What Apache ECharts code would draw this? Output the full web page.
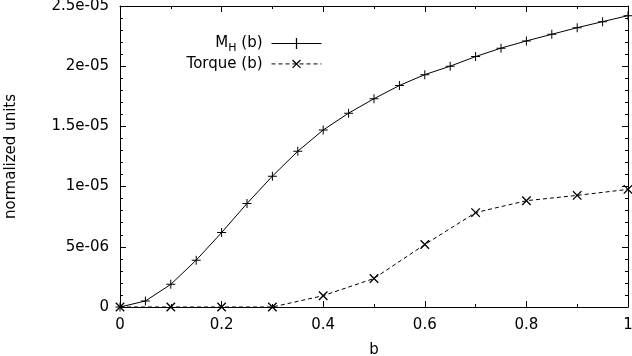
<!DOCTYPE html>
<html>
<head>
<meta charset="utf-8">
<script src="https://cdn.jsdelivr.net/npm/echarts@6/dist/echarts.min.js"></script>
<style>
  html, body { margin: 0; padding: 0; background: #fff; }
  #chart { width: 632px; height: 356px; }
</style>
</head>
<body>
<div id="chart"></div>
<script>
// M_H(b), sampled every 0.05
const mhB = [0, 0.05, 0.1, 0.15, 0.2, 0.25, 0.3, 0.35, 0.4, 0.45, 0.5,
  0.55, 0.6, 0.65, 0.7, 0.75, 0.8, 0.85, 0.9, 0.95, 1.0]
const mhValues = [0, 0.5e-6, 1.88e-6, 3.89e-6, 6.18e-6, 8.6e-6, 10.87e-6, 12.94e-6, 14.7e-6, 16.1e-6, 17.3e-6,
  18.4e-6, 19.3e-6, 20.0e-6, 20.8e-6, 21.5e-6, 22.1e-6, 22.65e-6, 23.2e-6, 23.7e-6, 24.2e-6]

// Torque(b), sampled every 0.1
const torqueB = [0, 0.1, 0.2, 0.3, 0.4, 0.5, 0.6, 0.7, 0.8, 0.9, 1.0]
const torqueValues = [0, 0, 0, 0, 0.94e-6, 2.37e-6, 5.19e-6, 7.84e-6, 8.83e-6, 9.27e-6, 9.77e-6]

const FONT = 'DejaVu Sans'
const FS = 15
const PLUS = 'path://M4,0h1v4h4v1h-4v4h-1v-4h-4v-1h4z'

// 0 -> '0', 2.5e-5 -> '2.5e-05'
const fmtExp = (v) => {
  if (v === 0) return '0'
  const s = Number(v.toPrecision(6)).toExponential()
  return s.replace(/e([+-])(\d)$/, 'e$10$2')
}

const chart = echarts.init(document.getElementById('chart'))

const tick = { show: true, inside: true, length: 6, lineStyle: { color: '#000', width: 1 } }
const axisLine = { show: true, onZero: false, lineStyle: { color: '#000', width: 1 } }
const labelStyle = { fontFamily: FONT, fontSize: FS, color: '#000' }

const legendBase = {
  orient: 'horizontal',
  align: 'right',
  right: 305,
  itemWidth: 50,
  itemHeight: 14,
  selectedMode: false,
  lineStyle: { width: 1 },
  textStyle: {
    ...labelStyle,
    padding: [0, 4, 0, 0],
    rich: {
      n: { ...labelStyle },
      s: { fontFamily: FONT, fontSize: 11, color: '#000', padding: [9, 0, 0, 0] }
    }
  }
}

const option = {
  backgroundColor: '#fff',
  animation: false,
  grid: { left: 120, right: 4, top: 6, bottom: 49, outerBoundsMode: 'none' },
  legend: [
    {
      ...legendBase,
      top: 31,
      data: ['MH (b)'],
      formatter: () => '{n|M}{s|H}{n| (b)}'
    },
    {
      ...legendBase,
      top: 51,
      data: ['Torque (b)']
    }
  ],
  xAxis: [
    {
      type: 'value',
      position: 'bottom',
      min: 0,
      max: 1,
      interval: 0.2,
      name: 'b',
      nameLocation: 'middle',
      nameGap: 36,
      nameTextStyle: labelStyle,
      axisLine: axisLine,
      axisTick: tick,
      minorTick: { show: true, splitNumber: 2, length: 3, lineStyle: { color: '#000' } },
      splitLine: { show: false },
      axisLabel: { ...labelStyle, margin: 11 }
    },
    {
      type: 'value',
      position: 'top',
      min: 0,
      max: 1,
      interval: 0.2,
      axisLine: axisLine,
      axisTick: tick,
      minorTick: { show: true, splitNumber: 2, length: 3, lineStyle: { color: '#000' } },
      splitLine: { show: false },
      axisLabel: { show: false }
    }
  ],
  yAxis: [
    {
      type: 'value',
      position: 'left',
      min: 0,
      max: 2.5e-5,
      interval: 5e-6,
      name: 'normalized units',
      nameLocation: 'middle',
      nameGap: 101,
      nameTextStyle: labelStyle,
      axisLine: axisLine,
      axisTick: tick,
      minorTick: { show: true, splitNumber: 5, length: 3, lineStyle: { color: '#000' } },
      splitLine: { show: false },
      axisLabel: { ...labelStyle, margin: 11, formatter: fmtExp }
    },
    {
      type: 'value',
      position: 'right',
      min: 0,
      max: 2.5e-5,
      interval: 5e-6,
      axisLine: axisLine,
      axisTick: tick,
      minorTick: { show: true, splitNumber: 5, length: 3, lineStyle: { color: '#000' } },
      splitLine: { show: false },
      axisLabel: { show: false }
    }
  ],
  series: [
    {
      name: 'MH (b)',
      type: 'line',
      data: mhB.map((b, i) => [b, mhValues[i]]),
      symbol: PLUS,
      symbolSize: 9,
      showAllSymbol: true,
      itemStyle: { color: '#000' },
      lineStyle: { color: '#000', width: 1 },
      z: 3
    },
    {
      name: 'Torque (b)',
      type: 'line',
      data: torqueB.map((b, i) => [b, torqueValues[i]]),
      symbol: PLUS,
      symbolSize: 12,
      symbolRotate: 45,
      showAllSymbol: true,
      itemStyle: { color: '#000' },
      lineStyle: { color: '#000', width: 1, type: [4, 3] },
      z: 2
    }
  ]
}

chart.setOption(option)
</script>
</body>
</html>
